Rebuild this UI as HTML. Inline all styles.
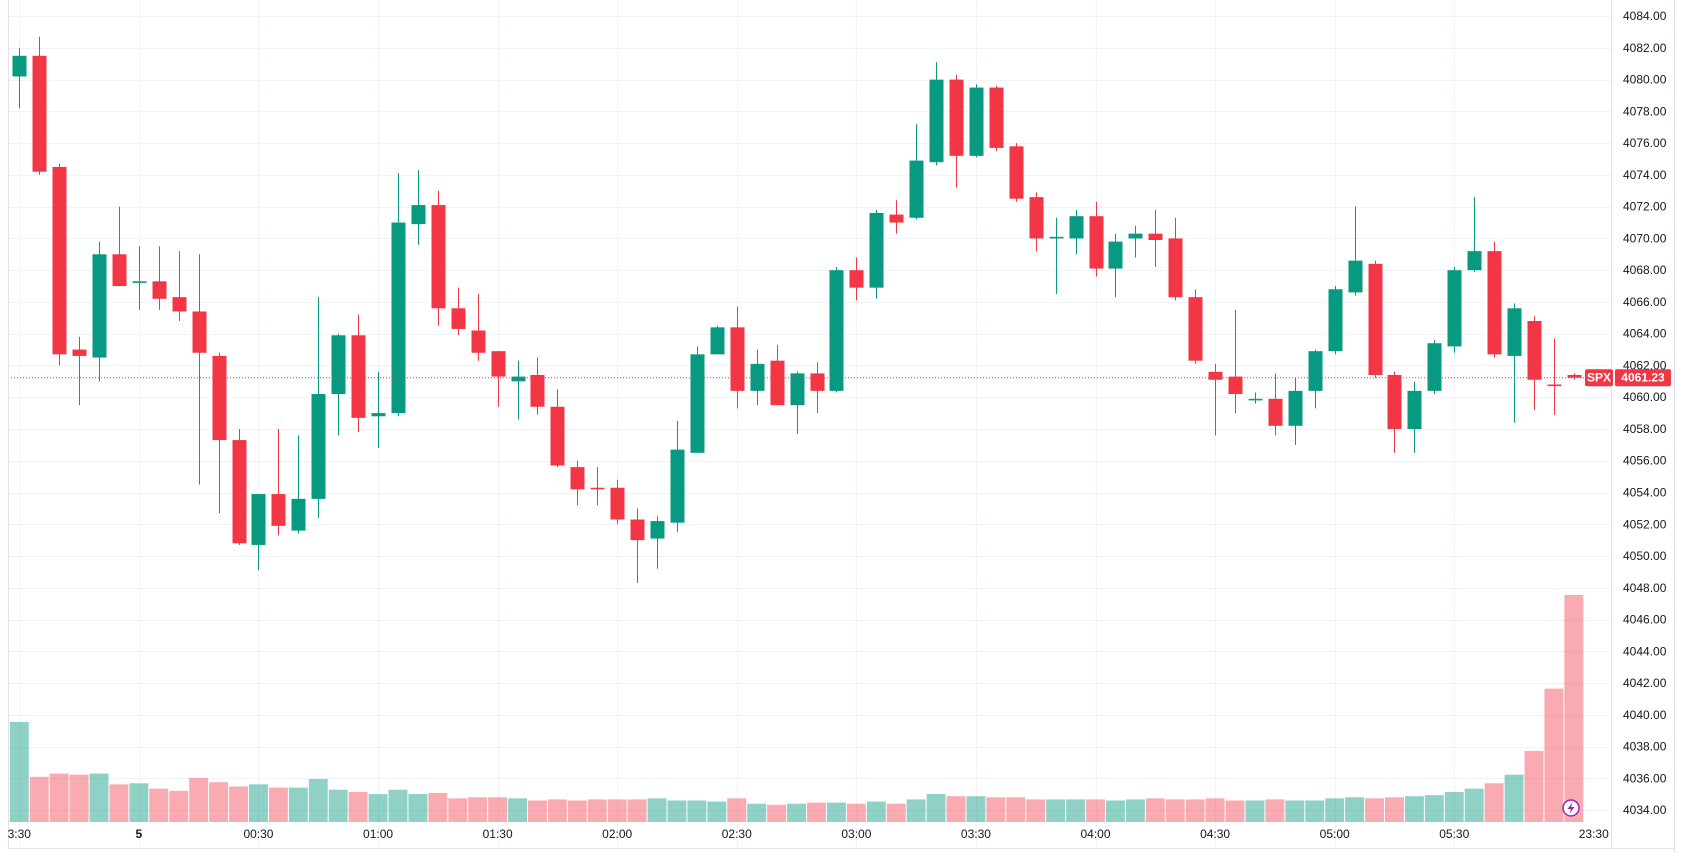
<!DOCTYPE html>
<html><head><meta charset="utf-8">
<style>
html,body{margin:0;padding:0;background:#fff;}
body{width:1685px;height:853px;overflow:hidden;font-family:"Liberation Sans",sans-serif;}
svg text{font-family:"Liberation Sans",sans-serif;}
</style></head>
<body>
<svg id="chart" width="1685" height="853" xmlns="http://www.w3.org/2000/svg"></svg>
<script>
const opens  =[4080.2,4081.5,4074.5,4063,4062.5,4069,4067.2,4067.3,4066.3,4065.4,4062.6,4057.3,4050.7,4053.9,4051.6,4053.6,4060.2,4063.9,4058.8,4059,4070.9,4072.1,4065.6,4064.2,4062.9,4061,4061.4,4059.4,4055.6,4054.3,4054.3,4052.3,4051.1,4052.1,4056.5,4062.7,4064.4,4060.4,4062.3,4059.5,4061.5,4060.4,4068,4066.9,4071.5,4071.3,4074.8,4080,4075.2,4079.5,4075.8,4072.6,4070,4070,4071.4,4068.1,4070,4070.3,4070,4066.3,4061.6,4061.3,4059.8,4059.9,4058.2,4060.4,4062.9,4066.6,4068.4,4061.4,4058,4060.4,4063.2,4068,4069.2,4062.6,4064.8,4060.8,4061.4];
const closes =[4081.5,4074.2,4062.7,4062.6,4069,4067,4067.3,4066.2,4065.4,4062.8,4057.3,4050.8,4053.9,4051.9,4053.6,4060.2,4063.9,4058.7,4059,4071,4072.1,4065.6,4064.3,4062.8,4061.3,4061.3,4059.4,4055.7,4054.2,4054.2,4052.3,4051,4052.2,4056.7,4062.7,4064.4,4060.4,4062.1,4059.5,4061.5,4060.4,4068,4066.9,4071.6,4071,4074.9,4080,4075.2,4079.5,4075.7,4072.5,4070,4070.1,4071.4,4068.1,4069.8,4070.3,4069.9,4066.3,4062.3,4061.1,4060.2,4059.9,4058.2,4060.4,4062.9,4066.8,4068.6,4061.4,4058,4060.4,4063.4,4068,4069.2,4062.7,4065.6,4061.1,4060.7,4061.23];
const highs  =[4082,4082.7,4074.7,4063.8,4069.8,4072,4069.5,4069.5,4069.2,4069,4062.8,4058,4053.9,4058,4057.6,4066.3,4064,4065.2,4061.6,4074.1,4074.3,4073,4066.9,4066.5,4062.6,4062.3,4062.5,4060.5,4056,4055.6,4054.8,4053,4052.5,4058.5,4063.2,4064.5,4065.7,4063,4063.3,4061.6,4062.2,4068.2,4068.8,4071.8,4072.4,4077.2,4081.1,4080.3,4079.7,4079.6,4076,4072.9,4071.3,4071.8,4072.3,4070.3,4070.8,4071.8,4071.3,4066.8,4062.1,4065.5,4060.3,4061.5,4061.2,4063,4067,4072,4068.6,4061.6,4061,4063.6,4068.2,4072.6,4069.8,4065.9,4065.1,4063.7,4061.5];
const lows   =[4078.2,4074,4062,4059.5,4061,4067,4065.5,4065.5,4064.8,4054.5,4052.7,4050.7,4049.1,4051.3,4051.4,4052.4,4057.6,4057.8,4056.8,4058.8,4069.6,4064.5,4063.9,4062.3,4059.4,4058.6,4058.9,4055.6,4053.2,4053.2,4052,4048.3,4049.2,4051.5,4056.5,4062.9,4059.3,4059.5,4059.5,4057.7,4059,4060.3,4066.1,4066.2,4070.3,4071.2,4074.6,4073.2,4075.1,4075.5,4072.3,4069.2,4066.5,4069,4067.6,4066.3,4068.8,4068.2,4066.1,4062.1,4057.6,4059,4059.6,4057.6,4057,4059.3,4062.7,4066.4,4061.2,4056.5,4056.5,4060.2,4062.8,4067.9,4062.5,4058.4,4059.2,4058.9,4061.1];
const volumes=[93,42,45,44,45,35,36,31,29,41,37,33,35,32,32,40,30,28,26,30,26,27,22,23,23,22,20,21,20,21,21,21,22,20,20,19,22,17,16,17,18,18,17,19,17,21,26,24,24,23,23,21,21,21,21,20,21,22,21,21,22,20,20,21,20,20,22,23,22,23,24,25,28,31,36,44,66,124,211];
const priceTicks=["4034.00","4036.00","4038.00","4040.00","4042.00","4044.00","4046.00","4048.00","4050.00","4052.00","4054.00","4056.00","4058.00","4060.00","4062.00","4064.00","4066.00","4068.00","4070.00","4072.00","4074.00","4076.00","4078.00","4080.00","4082.00","4084.00"];
const timeLabels=["3:30","5","00:30","01:00","01:30","02:00","02:30","03:00","03:30","04:00","04:30","05:00","05:30"];
const lastPrice=4061.23;

const svg=document.getElementById('chart');
const NS="http://www.w3.org/2000/svg";
const plotR=1611, x0=19.3, step=19.93;
const y=p=>16.1+(4084-p)*15.88;
const x=i=>x0+i*step;
const volBase=822, volScale=227/211;
function mk(tag,attrs,parent){const e=document.createElementNS(NS,tag);for(const k in attrs)e.setAttribute(k,attrs[k]);(parent||svg).appendChild(e);return e;}
const UP="#089981", DN="#f23645";

// grid
const grid=mk('g',{});


priceTicks.forEach(t=>{const yy=Math.round(y(parseFloat(t)))+0.5;mk('line',{x1:8,x2:plotR,y1:yy,y2:yy,stroke:'#f0f3fa','stroke-width':1},grid);});
timeLabels.forEach((t,k)=>{const xx=Math.round(x(k*6))+0.5;mk('line',{x1:xx,x2:xx,y1:0,y2:848,stroke:'#f0f3fa','stroke-width':1},grid);});

// volume
const vg=mk('g',{});


volumes.forEach((v,i)=>{const h=v*volScale;const up=closes[i]>=opens[i];
 const r=mk('rect',{x:x(i)-step/2+0.5,y:volBase-h,width:step-1,height:h,fill:up?'rgba(8,153,129,0.45)':'rgba(242,54,69,0.42)'},vg);
 
 });

// candles
const cg=mk('g',{});


opens.forEach((o,i)=>{const c=closes[i];const up=c>=o;const col=up?UP:DN;const cx=Math.round(x(i))+0.5;
 const g=mk('g',{},cg);
 
 
 mk('line',{x1:cx,x2:cx,y1:y(highs[i]),y2:y(lows[i]),stroke:col,'stroke-width':1},g);
 const t=y(Math.max(o,c)),b=y(Math.min(o,c));
 mk('rect',{x:cx-7,y:t,width:14,height:Math.max(1.5,b-t),fill:col},g);});

// last price line
const ly=y(lastPrice);
const pl=mk('line',{x1:8,x2:plotR,y1:ly,y2:ly,stroke:DN,'stroke-width':1,'stroke-dasharray':'1 2'});



// axes borders
mk('line',{x1:plotR+0.5,x2:plotR+0.5,y1:0,y2:848,stroke:'#e0e3eb'});
mk('line',{x1:1674.5,x2:1674.5,y1:0,y2:853,stroke:'#e0e3eb'});
mk('line',{x1:8,x2:1675,y1:848.5,y2:848.5,stroke:'#e0e3eb'});
mk('line',{x1:8.5,x2:8.5,y1:0,y2:848,stroke:'#e0e3eb'});

// price axis labels
const pa=mk('g',{});


priceTicks.forEach(t=>{const tx=mk('text',{x:1623,y:y(parseFloat(t))+4,'font-size':12,fill:'#131722'},pa);tx.textContent=t;});

// time axis
const ta=mk('g',{});


timeLabels.forEach((t,k)=>{const tx=mk('text',{x:x(k*6),y:838,'font-size':12,fill:'#131722','text-anchor':'middle','font-weight':t==='5'?'bold':'normal'},ta);tx.textContent=t;});
const clip=mk('clipPath',{id:'tc'});mk('rect',{x:0,y:820,width:plotR,height:30},clip);
const tEnd=mk('text',{x:x(79),y:838,'font-size':12,fill:'#131722','text-anchor':'middle','clip-path':'url(#tc)'},ta);tEnd.textContent="23:30";

// price label
const lb=mk('g',{});


mk('rect',{x:1585,y:ly-8.5,width:28,height:17,rx:2,fill:DN},lb);
mk('rect',{x:1615,y:ly-8.5,width:56,height:17,rx:2,fill:DN},lb);
let s=mk('text',{x:1599,y:ly+4,'font-size':12,fill:'#fff','text-anchor':'middle','font-weight':'bold'},lb);s.textContent="SPX";
s=mk('text',{x:1643,y:ly+4,'font-size':12,fill:'#fff','text-anchor':'middle','font-weight':'bold'},lb);s.textContent=lastPrice.toFixed(2);

// lightning icon
const li=mk('g',{});


mk('circle',{cx:1571,cy:808,r:8,fill:'#fff',stroke:'#9c27b0','stroke-width':1.5},li);
mk('path',{d:'M1572.5 802 L1567.5 809 L1571 809 L1569.5 814 L1574.5 807 L1571 807 Z',fill:'#9c27b0'},li);
</script>
</body></html>
